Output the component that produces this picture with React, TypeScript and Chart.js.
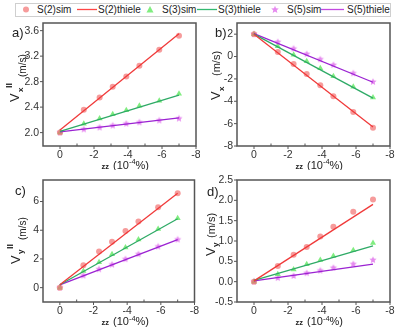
import React, { useEffect, useRef } from "react";
import { Chart, registerables } from "chart.js";
Chart.register(...registerables);

const FONT = "'Liberation Sans', Arial, Helvetica, sans-serif";

// ---------- data ----------
const strain = [0, -1.4, -2.33, -3.1, -3.9, -4.67, -5.84, -7];
const fitStrain = [0, -7];
const xMajorTicks = [0, -2, -4, -6, -8];
const xMinorTicks = [-1, -3, -5, -7];

const aS2sim = [2.0, 2.36, 2.55, 2.72, 2.88, 3.05, 3.3, 3.52];
const aS2fit = [2.04, 3.55];
const aS3sim = [2.0, 2.14, 2.22, 2.29, 2.35, 2.42, 2.5, 2.61];
const aS3fit = [2.02, 2.59];
const aS5sim = [2.0, 2.05, 2.08, 2.11, 2.14, 2.16, 2.19, 2.22];
const aS5fit = [2.01, 2.23];
const aYTicks = [2.0, 2.4, 2.8, 3.2, 3.6];

const bS2sim = [2.0, 0.4, -0.67, -1.56, -2.56, -3.54, -4.96, -6.36];
const bS2fit = [2.0, -6.3];
const bS3sim = [2.0, 0.93, 0.16, -0.43, -1.05, -1.76, -2.71, -3.66];
const bS3fit = [2.0, -3.72];
const bS5sim = [2.0, 1.29, 0.7, 0.22, -0.25, -0.76, -1.5, -2.27];
const bS5fit = [2.05, -2.3];
const bYTicks = [-8, -6, -4, -2, 0, 2];

const cS2sim = [0, 1.56, 2.51, 3.19, 3.95, 4.6, 5.6, 6.58];
const cS2fit = [0.2, 6.58];
const cS3sim = [0, 1.16, 1.77, 2.33, 2.79, 3.35, 4.09, 4.84];
const cS3fit = [0.2, 4.8];
const cS5sim = [0, 0.84, 1.28, 1.6, 1.98, 2.33, 2.86, 3.35];
const cS5fit = [0.2, 3.35];
const cYTicks = [0, 2, 4, 6];

const dS2sim = [0, 0.385, 0.66, 0.85, 1.11, 1.35, 1.72, 2.02];
const dS2fit = [0.02, 1.9];
const dS3sim = [0, 0.18, 0.3, 0.43, 0.53, 0.63, 0.77, 0.95];
const dS3fit = [0.03, 0.88];
const dS5sim = [0, 0.09, 0.14, 0.21, 0.27, 0.34, 0.43, 0.53];
const dS5fit = [0.02, 0.43];
const dYTicks = [-0.5, 0, 0.5, 1.0, 1.5, 2.0, 2.5];

const legendLabels = ["S(2)sim", "S(2)thiele", "S(3)sim", "S(3)thiele", "S(5)sim", "S(5)thiele"];

// ---------- styles ----------
const RED_PT = "rgba(242,112,112,0.7)";
const RED_LN = "#f03a3a";
const GRN_PT = "rgba(96,232,96,0.8)";
const GRN_LN = "#2eaa66";
const PUR_PT = "rgba(226,118,236,0.85)";
const PUR_LN = "#9b22d2";

type Run = { t: string; font: string; bx: number; sy: number };

type Panel = {
  left: number; top: number; width: number; height: number;
  padTop: number; padRight: number; yW: number; xH: number;
  yMin: number; yMax: number; yTicks: number[]; decimals: number;
  s2: number[]; s2fit: number[]; s3: number[]; s3fit: number[]; s5: number[]; s5fit: number[];
  letter: string; letterX: number; letterY: number;
  yTitle: Run[]; xTitleX: number; xTitleY: number;
};

const panels: Panel[] = [
  {
    left: 0, top: 18, width: 200, height: 152, padTop: 5, padRight: 4, yW: 43, xH: 24,
    yMin: 1.79, yMax: 3.72, yTicks: aYTicks, decimals: 1,
    s2: aS2sim, s2fit: aS2fit, s3: aS3sim, s3fit: aS3fit, s5: aS5sim, s5fit: aS5fit,
    letter: "a)", letterX: 12, letterY: 37,
    yTitle: [
      { t: "V", font: `13px ${FONT}`, bx: 19, sy: 102 },
      { t: "x", font: `bold 8px ${FONT}`, bx: 23, sy: 92 },
      { t: "II", font: `bold 9px ${FONT}`, bx: 12, sy: 88 },
      { t: "(m/s)", font: `10px ${FONT}`, bx: 25.5, sy: 77 },
    ],
    xTitleX: 101.5, xTitleY: 168.5,
  },
  {
    left: 199, top: 18, width: 200, height: 152, padTop: 5, padRight: 9, yW: 38, xH: 24,
    yMin: -8, yMax: 3, yTicks: bYTicks, decimals: 0,
    s2: bS2sim, s2fit: bS2fit, s3: bS3sim, s3fit: bS3fit, s5: bS5sim, s5fit: bS5fit,
    letter: "b)", letterX: 215, letterY: 37,
    yTitle: [
      { t: "V", font: `13px ${FONT}`, bx: 220, sy: 100 },
      { t: "x", font: `bold 8px ${FONT}`, bx: 223.5, sy: 91 },
      { t: "(m/s)", font: `11px ${FONT}`, bx: 220, sy: 76 },
    ],
    xTitleX: 295.5, xTitleY: 168.5,
  },
  {
    left: 0, top: 170, width: 200, height: 163, padTop: 10, padRight: 5.5, yW: 43, xH: 31,
    yMin: -1, yMax: 7.5, yTicks: cYTicks, decimals: 0,
    s2: cS2sim, s2fit: cS2fit, s3: cS3sim, s3fit: cS3fit, s5: cS5sim, s5fit: cS5fit,
    letter: "c)", letterX: 15, letterY: 194.5,
    yTitle: [
      { t: "V", font: `13px ${FONT}`, bx: 20, sy: 264 },
      { t: "y", font: `bold 8px ${FONT}`, bx: 23, sy: 254 },
      { t: "II", font: `bold 9px ${FONT}`, bx: 13, sy: 249 },
      { t: "(m/s)", font: `10px ${FONT}`, bx: 26, sy: 240 },
    ],
    xTitleX: 101.5, xTitleY: 325,
  },
  {
    left: 199, top: 170, width: 200, height: 163, padTop: 10, padRight: 9, yW: 38, xH: 31,
    yMin: -0.5, yMax: 2.5, yTicks: dYTicks, decimals: 1,
    s2: dS2sim, s2fit: dS2fit, s3: dS3sim, s3fit: dS3fit, s5: dS5sim, s5fit: dS5fit,
    letter: "d)", letterX: 207, letterY: 196,
    yTitle: [
      { t: "V", font: `13px ${FONT}`, bx: 215, sy: 256 },
      { t: "y", font: `bold 8px ${FONT}`, bx: 218, sy: 247 },
      { t: "(m/s)", font: `11px ${FONT}`, bx: 215, sy: 238 },
    ],
    xTitleX: 295.5, xTitleY: 325,
  },
];

function starCanvas(color: string, r: number) {
  const c = document.createElement("canvas");
  const s = Math.ceil(r * 2 + 2);
  c.width = s;
  c.height = s;
  const g = c.getContext("2d")!;
  g.fillStyle = color;
  g.beginPath();
  for (let i = 0; i < 10; i++) {
    const rr = i % 2 ? r * 0.45 : r;
    const a = -Math.PI / 2 + (i * Math.PI) / 5;
    g.lineTo(s / 2 + rr * Math.cos(a), s / 2 + rr * Math.sin(a));
  }
  g.closePath();
  g.fill();
  return c;
}

function decorPlugin(p: Panel) {
  return {
    id: "decor",
    afterDatasetsDraw(chart: any) {
      const { ctx, chartArea: ca, scales } = chart;
      const xs = scales.x;
      const ys = scales.y;
      ctx.save();
      ctx.strokeStyle = "#555";
      ctx.lineWidth = 1;
      ctx.beginPath();
      for (const v of xMajorTicks) {
        const px = xs.getPixelForValue(v);
        ctx.moveTo(px, ca.bottom);
        ctx.lineTo(px, ca.bottom + 3);
      }
      for (const v of xMinorTicks) {
        const px = xs.getPixelForValue(v);
        ctx.moveTo(px, ca.bottom);
        ctx.lineTo(px, ca.bottom - 2.5);
      }
      for (const v of p.yTicks) {
        const py = ys.getPixelForValue(v);
        ctx.moveTo(ca.left, py);
        ctx.lineTo(ca.left - 3, py);
      }
      ctx.stroke();
      ctx.lineWidth = 1.5;
      ctx.strokeRect(ca.left, ca.top, ca.right - ca.left, ca.bottom - ca.top);

      ctx.fillStyle = "#222";
      ctx.textBaseline = "alphabetic";
      ctx.textAlign = "left";
      // panel letter
      ctx.font = `13px ${FONT}`;
      ctx.fillText(p.letter, p.letterX - p.left, p.letterY - p.top);

      // y title (rotated runs)
      for (const r of p.yTitle) {
        ctx.save();
        ctx.translate(r.bx - p.left, r.sy - p.top);
        ctx.rotate(-Math.PI / 2);
        ctx.font = r.font;
        ctx.fillText(r.t, 0, 0);
        ctx.restore();
      }

      // x title
      let cx = p.xTitleX - p.left;
      const by = p.xTitleY - p.top;
      ctx.font = `bold 7.5px ${FONT}`;
      ctx.fillText("zz", cx, by);
      cx += ctx.measureText("zz").width + 4;
      ctx.font = `11px ${FONT}`;
      ctx.fillText("(10", cx, by);
      cx += ctx.measureText("(10").width;
      ctx.font = `7.5px ${FONT}`;
      ctx.fillText("-4", cx, by - 4.5);
      cx += ctx.measureText("-4").width;
      ctx.font = `11px ${FONT}`;
      ctx.fillText("%)", cx, by);
      ctx.restore();
    },
  };
}

function buildConfig(p: Panel): any {
  const star = starCanvas(PUR_PT, 3.8);
  const pts = (ys: number[]) => strain.map((x, i) => ({ x, y: ys[i] }));
  const fit = (ys: number[]) => fitStrain.map((x, i) => ({ x, y: ys[i] }));
  const lineDs = (label: string, ys: number[], color: string) => ({
    label, data: fit(ys), showLine: true, pointRadius: 0, borderColor: color, borderWidth: 1.3, order: 0,
  });
  return {
    type: "scatter",
    data: {
      datasets: [
        lineDs(legendLabels[1], p.s2fit, RED_LN),
        lineDs(legendLabels[3], p.s3fit, GRN_LN),
        lineDs(legendLabels[5], p.s5fit, PUR_LN),
        { label: legendLabels[0], data: pts(p.s2), pointStyle: "circle", pointRadius: 3, backgroundColor: RED_PT, borderWidth: 0, order: 1 },
        { label: legendLabels[2], data: pts(p.s3), pointStyle: "triangle", pointRadius: 3.5, backgroundColor: GRN_PT, borderWidth: 0, order: 1 },
        { label: legendLabels[4], data: pts(p.s5), pointStyle: star, pointRadius: 4, backgroundColor: PUR_PT, borderWidth: 0, order: 1 },
      ],
    },
    options: {
      responsive: false,
      animation: false,
      devicePixelRatio: 1,
      events: [],
      layout: { padding: { top: p.padTop, right: p.padRight, left: 0, bottom: 0 } },
      plugins: { legend: { display: false }, tooltip: { enabled: false } },
      scales: {
        x: {
          type: "linear", min: -8, max: 1, reverse: true,
          grid: { display: false, drawTicks: false, tickLength: 0 }, border: { display: false },
          ticks: { color: "#333", font: { family: FONT, size: 10.5 }, padding: 3, maxRotation: 0, autoSkip: false, callback: (v: number) => String(v) },
          afterBuildTicks: (s: any) => { s.ticks = xMajorTicks.map((v) => ({ value: v })); },
          afterFit: (s: any) => { s.height = p.xH; s.paddingLeft = 0; s.paddingRight = 0; },
        },
        y: {
          type: "linear", min: p.yMin, max: p.yMax,
          grid: { display: false, drawTicks: false, tickLength: 0 }, border: { display: false },
          ticks: { color: "#333", font: { family: FONT, size: 10.5 }, padding: 4, autoSkip: false, callback: (v: number) => v.toFixed(p.decimals) },
          afterBuildTicks: (s: any) => { s.ticks = p.yTicks.map((v) => ({ value: v })); },
          afterFit: (s: any) => { s.width = p.yW; s.paddingTop = 0; s.paddingBottom = 0; },
        },
      },
    },
    plugins: [decorPlugin(p)],
  };
}

function PanelChart({ p }: { p: Panel }) {
  const ref = useRef<HTMLCanvasElement>(null);
  useEffect(() => {
    const chart = new Chart(ref.current!, buildConfig(p));
    return () => chart.destroy();
  }, []);
  return (
    <canvas
      ref={ref}
      width={p.width}
      height={p.height}
      style={{ position: "absolute", left: p.left, top: p.top, width: p.width, height: p.height }}
    />
  );
}

function starPath(cx: number, cy: number, r: number) {
  const pts: string[] = [];
  for (let i = 0; i < 10; i++) {
    const rr = i % 2 ? r * 0.45 : r;
    const a = -Math.PI / 2 + (i * Math.PI) / 5;
    pts.push(`${(cx + rr * Math.cos(a)).toFixed(2)},${(cy + rr * Math.sin(a)).toFixed(2)}`);
  }
  return pts.join(" ");
}

function Legend() {
  const ty = 13;
  const fs = 10;
  const textStyle = { fontFamily: FONT, fontSize: fs, fill: "#222" } as any;
  return (
    <svg width={399} height={20} style={{ position: "absolute", left: 0, top: 0 }}>
      <rect x={15.5} y={3.5} width={375} height={13} fill="white" stroke="#cfcfcf" strokeWidth={1} />
      <circle cx={26} cy={9.5} r={3} fill={RED_PT} />
      <text x={37} y={ty} style={textStyle}>{legendLabels[0]}</text>
      <line x1={77} y1={9.5} x2={97} y2={9.5} stroke="#ff4646" strokeWidth={1.3} />
      <text x={98} y={ty} style={textStyle}>{legendLabels[1]}</text>
      <polygon points="150,6 153.5,12.5 146.5,12.5" fill={GRN_PT} />
      <text x={162} y={ty} style={textStyle}>{legendLabels[2]}</text>
      <line x1={197} y1={9.5} x2={217} y2={9.5} stroke="#34b870" strokeWidth={1.3} />
      <text x={218} y={ty} style={textStyle}>{legendLabels[3]}</text>
      <polygon points={starPath(275, 9.8, 4)} fill={PUR_PT} />
      <text x={287} y={ty} style={textStyle}>{legendLabels[4]}</text>
      <line x1={321} y1={9.5} x2={344} y2={9.5} stroke="#c24ae0" strokeWidth={1.3} />
      <text x={347} y={ty} style={textStyle}>{legendLabels[5]}</text>
    </svg>
  );
}

export default function App() {
  return (
    <div style={{ position: "fixed", left: 0, top: 0, width: 399, height: 333, background: "white", overflow: "hidden" }}>
      <Legend />
      {panels.map((p, i) => (
        <PanelChart key={i} p={p} />
      ))}
    </div>
  );
}
